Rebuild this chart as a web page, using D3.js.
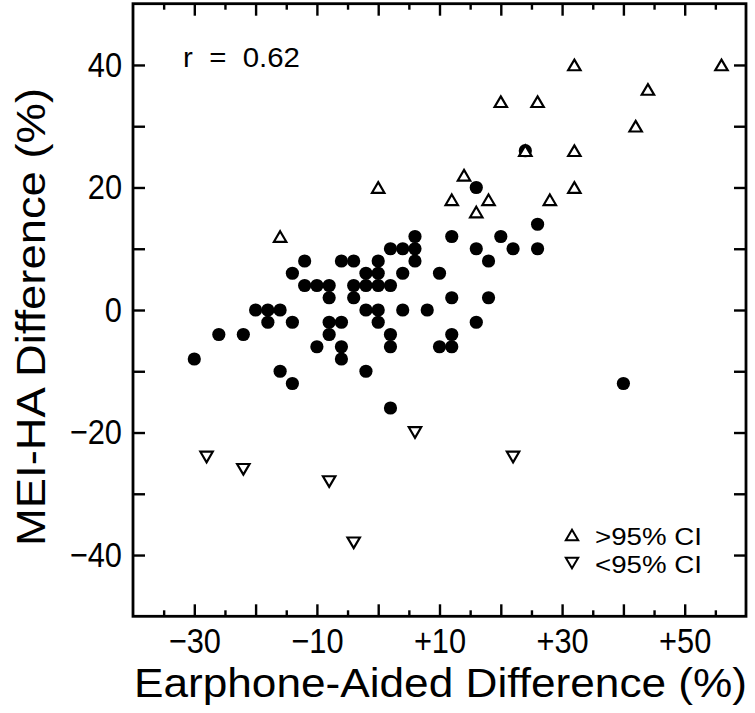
<!DOCTYPE html>
<html>
<head>
<meta charset="utf-8">
<script src="https://cdn.jsdelivr.net/npm/d3@7"></script>
<style>
  html, body { margin: 0; padding: 0; background: #fff; }
  svg { display: block; }
  text { font-family: "Liberation Sans", Arial, sans-serif; fill: #000; }
</style>
</head>
<body>
<svg id="chart" width="755" height="713"></svg>
<script>
// ---- data ----
// filled circles (within CI)
const dotX = [24, 16, 26,
  6, 12, 20,
  2, 4, 6, 16, 22, 26,
  -12, -6, -4, 0, 6, 18,
  -14, -2, 0, 4, 10,
  -12, -10, -8, -4, -2, 0, 2,
  -8, -4, 12, 18,
  -20, -18, -16, -2, 0, 4, 8,
  -18, -14, -8, -6, 0, 16,
  -26, -22, -8, 2, 12,
  -10, -6, 2, 10, 12,
  -30, -6,
  -16, -2,
  -14, 40,
  2];
const dotY = [26, 20, 14,
  12, 12, 12,
  10, 10, 10, 10, 10, 10,
  8, 8, 8, 8, 8, 8,
  6, 6, 6, 6, 6,
  4, 4, 4, 4, 4, 4, 4,
  2, 2, 2, 2,
  0, 0, 0, 0, 0, 0, 0,
  -2, -2, -2, -2, -2, -2,
  -4, -4, -4, -4, -4,
  -6, -6, -6, -6, -6,
  -8, -8,
  -10, -10,
  -12, -12,
  -16];
// open triangles up (>95% CI)
const upX = [-16, 0, 12, 14, 16, 18, 20, 24, 26, 28, 32, 32, 32, 42, 44, 56];
const upY = [12, 20, 18, 22, 16, 18, 34, 26, 34, 18, 40, 26, 20, 30, 36, 40];
// open triangles down (<95% CI)
const downX = [-28, -22, -8, -4, 6, 22];
const downY = [-24, -26, -28, -38, -20, -24];

const xMajor = [-30, -20, -10, 0, 10, 20, 30, 40, 50];
const xMinor = [-35, -25, -15, -5, 5, 15, 25, 35, 45, 55];
const xLabeled = [-30, -10, 10, 30, 50];
const yMajor = [-40, -30, -20, -10, 0, 10, 20, 30, 40];
const yLabeled = [-40, -20, 0, 20, 40];

const xTitle = "Earphone-Aided Difference (%)";
const yTitle = "MEI-HA Difference (%)";
const rText = "r  =  0.62";
const legendLabels = [">95% CI", "<95% CI"];

// ---- layout ----
const svg = d3.select("#chart");
const L = 133, R = 746, T = 3.7, B = 616.3;
const x = d3.scaleLinear().domain([-40, 60]).range([L, R]);
const y = d3.scaleLinear().domain([-50, 50]).range([B, T]);

const fmtX = v => xLabeled.includes(v) ? (v > 0 ? "+" + v : v < 0 ? "\u2212" + Math.abs(v) : "0") : "";
const fmtY = v => yLabeled.includes(v) ? (v < 0 ? "\u2212" + Math.abs(v) : String(v)) : "";

function styleAxis(g) {
  g.select(".domain").remove();
  g.selectAll("line").attr("stroke", "#000").attr("stroke-width", 2.4);
  g.selectAll("text").attr("font-size", 35).attr("font-family", "Liberation Sans, Arial, sans-serif");
}

// bottom axis major
svg.append("g").attr("transform", `translate(0,${B})`)
  .call(d3.axisBottom(x).tickValues(xMajor).tickSizeInner(-12).tickSizeOuter(0).tickPadding(12).tickFormat(fmtX))
  .call(styleAxis);
svg.append("g").attr("transform", `translate(0,${B})`)
  .call(d3.axisBottom(x).tickValues(xMinor).tickSizeInner(-6).tickSizeOuter(0).tickFormat(""))
  .call(styleAxis);
// top axis
svg.append("g").attr("transform", `translate(0,${T})`)
  .call(d3.axisTop(x).tickValues(xMajor).tickSizeInner(-12).tickSizeOuter(0).tickFormat(""))
  .call(styleAxis);
svg.append("g").attr("transform", `translate(0,${T})`)
  .call(d3.axisTop(x).tickValues(xMinor).tickSizeInner(-6).tickSizeOuter(0).tickFormat(""))
  .call(styleAxis);
// left axis
svg.append("g").attr("transform", `translate(${L},0)`)
  .call(d3.axisLeft(y).tickValues(yMajor).tickSizeInner(-12).tickSizeOuter(0).tickPadding(11).tickFormat(fmtY))
  .call(styleAxis);
// right axis
svg.append("g").attr("transform", `translate(${R},0)`)
  .call(d3.axisRight(y).tickValues(yMajor).tickSizeInner(-12).tickSizeOuter(0).tickFormat(""))
  .call(styleAxis);

// tick label fine positioning
svg.selectAll("g text").each(function () {
  const t = d3.select(this);
  if (!t.text()) return;
  const w = this.getComputedTextLength();
  t.attr("textLength", w * 0.88).attr("lengthAdjust", "spacingAndGlyphs");
});

// frame
svg.append("rect").attr("x", L).attr("y", T).attr("width", R - L).attr("height", B - T)
  .attr("fill", "none").attr("stroke", "#000").attr("stroke-width", 2.8);

// ---- marks ----
const dots = dotX.map((v, i) => ({ x: v, y: dotY[i] }));
svg.append("g").selectAll("circle").data(dots).join("circle")
  .attr("cx", d => x(d.x)).attr("cy", d => y(d.y)).attr("r", 6.6).attr("fill", "#000");

const tw = 6.2, th = 10.6;
const triUp = `M0,${-th / 2}L${tw},${th / 2}L${-tw},${th / 2}Z`;
const triDown = `M0,${th / 2}L${tw},${-th / 2}L${-tw},${-th / 2}Z`;

const ups = upX.map((v, i) => ({ x: v, y: upY[i] }));
svg.append("g").selectAll("path").data(ups).join("path")
  .attr("d", triUp).attr("transform", d => `translate(${x(d.x)},${y(d.y)})`)
  .attr("fill", "#fff").attr("stroke", "#000").attr("stroke-width", 2.2).attr("stroke-linejoin", "miter");

const downs = downX.map((v, i) => ({ x: v, y: downY[i] }));
svg.append("g").selectAll("path").data(downs).join("path")
  .attr("d", triDown).attr("transform", d => `translate(${x(d.x)},${y(d.y)})`)
  .attr("fill", "#fff").attr("stroke", "#000").attr("stroke-width", 2.2);

// ---- texts ----
svg.append("text").attr("x", 183).attr("y", 66.5).attr("font-size", 28)
  .attr("textLength", 117).attr("lengthAdjust", "spacingAndGlyphs")
  .style("white-space", "pre").text(rText);

// legend
const legY = [535, 563];
svg.append("path").attr("d", triUp).attr("transform", `translate(572,${legY[0]})`)
  .attr("fill", "#fff").attr("stroke", "#000").attr("stroke-width", 2);
svg.append("path").attr("d", triDown).attr("transform", `translate(572,${legY[1]})`)
  .attr("fill", "#fff").attr("stroke", "#000").attr("stroke-width", 2);
legendLabels.forEach((s, i) => {
  svg.append("text").attr("x", 595).attr("y", legY[i] + 9.5).attr("font-size", 23)
    .attr("textLength", 107).attr("lengthAdjust", "spacingAndGlyphs").text(s);
});

// axis titles
svg.append("text").attr("x", 134).attr("y", 697).attr("font-size", 40)
  .attr("textLength", 613).attr("lengthAdjust", "spacingAndGlyphs").text(xTitle);
svg.append("text").attr("transform", "translate(45,317) rotate(-90)")
  .attr("text-anchor", "middle").attr("font-size", 40)
  .attr("textLength", 458).attr("lengthAdjust", "spacingAndGlyphs").text(yTitle);
</script>
</body>
</html>
